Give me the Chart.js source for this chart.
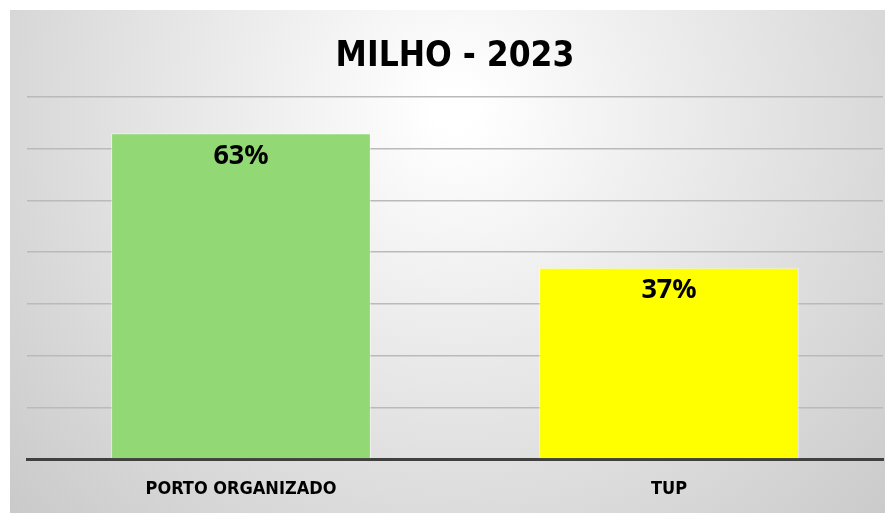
<!DOCTYPE html>
<html>
<head>
<meta charset="utf-8">
<script src="https://cdn.jsdelivr.net/npm/chart.js@4"></script>
<style>
  html, body { margin: 0; padding: 0; background: #fff; }
  #wrap { width: 885px; height: 513px; }
</style>
</head>
<body>
<div id="wrap"><canvas id="myChart" width="885" height="513"></canvas></div>
<script>
var categories = ['PORTO ORGANIZADO', 'TUP'];
var shares = [63, 37];
var barColors = ['#92d975', '#ffff00'];
var yTicks = [0, 10, 20, 30, 40, 50, 60, 70];

var narrow = "'Liberation Sans Narrow', 'DejaVu Sans Condensed', sans-serif";

// grey radial backdrop behind the whole chart box
var backdrop = {
  id: 'backdrop',
  beforeDraw: function (chart) {
    var c = chart.ctx;
    c.save();
    c.fillStyle = '#ffffff';
    c.fillRect(0, 0, chart.width, chart.height);
    var g = c.createRadialGradient(455, 110, 20, 455, 110, 620);
    g.addColorStop(0, '#ffffff');
    g.addColorStop(0.3, '#eeeeee');
    g.addColorStop(1, '#c8c8c8');
    c.fillStyle = g;
    c.fillRect(10, 10, chart.width - 10, chart.height - 10);
    c.restore();
  }
};

// value labels inside the top of each bar
var valueLabels = {
  id: 'valueLabels',
  afterDatasetsDraw: function (chart) {
    var c = chart.ctx;
    var meta = chart.getDatasetMeta(0);
    c.save();
    c.font = "bold 27px 'Noto Sans', 'Open Sans', sans-serif";
    c.fillStyle = '#000';
    c.textAlign = 'center';
    c.textBaseline = 'middle';
    meta.data.forEach(function (bar, i) {
      c.fillText(shares[i] + '%', bar.x, bar.y + 23);
    });
    c.restore();
  }
};

var ctx = document.getElementById('myChart');
var myChart = new Chart(ctx, {
  type: 'bar',
  data: {
    labels: categories,
    datasets: [{
      data: shares,
      backgroundColor: barColors,
      borderColor: 'rgba(255,255,255,0.5)',
      borderWidth: 1,
      barPercentage: 1,
      categoryPercentage: 0.607
    }]
  },
  options: {
    responsive: false,
    animation: false,
    layout: { padding: { left: 27, right: 2, top: 0, bottom: 6 } },
    plugins: {
      legend: { display: false },
      tooltip: { enabled: false },
      title: {
        display: true,
        text: 'MILHO - 2023',
        color: '#000',
        font: { family: narrow, size: 35, weight: 'bold' },
        padding: { top: 36, bottom: 19 }
      }
    },
    scales: {
      x: {
        grid: { display: false, drawTicks: false },
        border: { display: true, color: '#404040', width: 3 },
        afterFit: function (scale) { scale.height = 48; },
        ticks: {
          color: '#000',
          padding: 20,
          maxRotation: 0,
          minRotation: 0,
          font: { family: narrow, size: 18, weight: 'bold' }
        }
      },
      y: {
        min: 0,
        max: 70,
        afterBuildTicks: function (axis) {
          axis.ticks = yTicks.map(function (v) { return { value: v }; });
        },
        grid: { color: '#bababa', lineWidth: 1.5, drawTicks: false },
        border: { display: false },
        ticks: { display: false }
      }
    }
  },
  plugins: [backdrop, valueLabels]
});
</script>
</body>
</html>
